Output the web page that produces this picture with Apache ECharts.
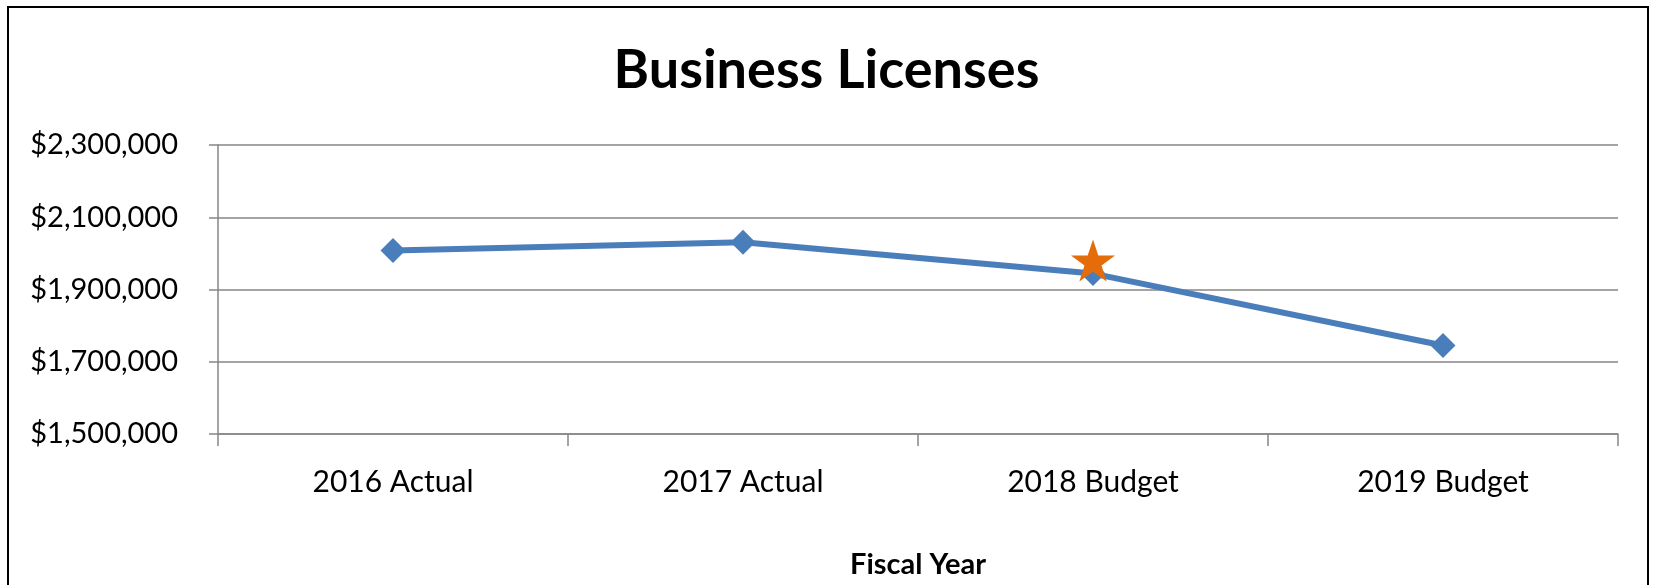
<!DOCTYPE html>
<html>
<head>
<meta charset="utf-8">
<script src="https://cdn.jsdelivr.net/npm/echarts@6/dist/echarts.min.js"></script>
<style>
  html, body { margin: 0; padding: 0; background: #fff; }
  #chart { width: 1653px; height: 585px; }
</style>
</head>
<body>
<div id="chart"></div>
<script>
const categories = ['2016 Actual', '2017 Actual', '2018 Budget', '2019 Budget'];
const licenseValues = [2008000, 2031000, 1944000, 1745000];
const starValues = [null, null, 1980000, null];
const yMin = 1500000;
const yMax = 2300000;
const yStep = 200000;

const chart = echarts.init(document.getElementById('chart'), null, { renderer: 'canvas' });
const fontFam = 'Lato, "Open Sans", sans-serif';
chart.setOption({
  animation: false,
  backgroundColor: '#ffffff',
  title: {
    text: 'Business Licenses',
    left: 'center',
    top: 39,
    textStyle: { fontFamily: fontFam, fontWeight: 'bold', fontSize: 54, color: '#000' }
  },
  graphic: [{
    type: 'rect',
    shape: { x: 8, y: 7, width: 1640, height: 620 },
    style: { fill: 'none', stroke: '#000', lineWidth: 2 },
    silent: true
  }],
  grid: { left: 218, right: 35, top: 145, bottom: 151, containLabel: false },
  xAxis: {
    type: 'category',
    data: categories,
    boundaryGap: true,
    name: 'Fiscal Year',
    nameLocation: 'middle',
    nameGap: 116,
    nameTextStyle: { fontFamily: fontFam, fontWeight: 'bold', fontSize: 29, color: '#000' },
    axisLine: { show: true, lineStyle: { color: '#868686', width: 1.5 } },
    axisTick: { show: true, length: 12, lineStyle: { color: '#868686', width: 1.5 } },
    axisLabel: { margin: 33, fontFamily: fontFam, fontSize: 30, color: '#000' },
    splitLine: { show: false }
  },
  yAxis: {
    type: 'value',
    min: yMin,
    max: yMax,
    interval: yStep,
    axisLine: { show: true, lineStyle: { color: '#868686', width: 1.5 } },
    axisTick: { show: true, length: 9, lineStyle: { color: '#868686', width: 1.5 } },
    axisLabel: {
      margin: 40,
      fontFamily: fontFam,
      fontSize: 29,
      color: '#000',
      formatter: v => '$' + v.toLocaleString('en-US')
    },
    splitLine: { show: true, lineStyle: { color: '#868686', width: 1.5 } }
  },
  series: [
    {
      type: 'line',
      data: licenseValues,
      symbol: 'diamond',
      symbolSize: 25,
      lineStyle: { color: '#4A7EBB', width: 6 },
      itemStyle: { color: '#4A7EBB' },
      z: 2
    },
    {
      type: 'scatter',
      data: starValues,
      symbol: 'path://M50,0 L61.8,35.3 L99,35.3 L69,57.3 L80.4,92.7 L50,70.8 L19.6,92.7 L31,57.3 L1,35.3 L38.2,35.3 Z',
      symbolSize: [44, 42],
      itemStyle: { color: '#E46C0A', opacity: 1 },
      z: 5
    }
  ]
});
</script>
</body>
</html>
